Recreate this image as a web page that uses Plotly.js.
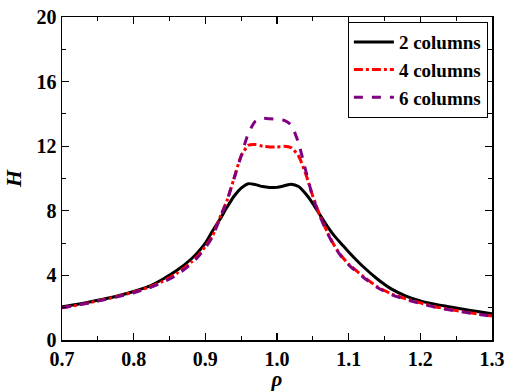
<!DOCTYPE html>
<html>
<head>
<meta charset="utf-8">
<script src="https://cdn.plot.ly/plotly-3.0.1.min.js"></script>
<style>html,body{margin:0;padding:0;background:#fff}#chart{width:506px;height:391px}</style>
</head>
<body>
<div id="chart"></div>
<script>
const names = ['2 columns', '4 columns', '6 columns'];

const rho2 = [0.70,0.72,0.74,0.76,0.78,0.80,0.82,0.84,0.86,0.88,0.89,0.90,0.91,0.92,0.93,0.94,0.95,0.96,0.97,0.98,0.99,1.00,1.01,1.02,1.03,1.04,1.05,1.06,1.07,1.08,1.09,1.10,1.12,1.14,1.16,1.18,1.20,1.22,1.24,1.26,1.28,1.30];
const h2   = [2.05,2.20,2.37,2.55,2.76,3.00,3.30,3.75,4.30,5.00,5.45,6.00,6.75,7.45,8.20,8.90,9.40,9.68,9.62,9.50,9.45,9.45,9.55,9.65,9.50,9.05,8.45,7.75,7.05,6.45,5.95,5.45,4.55,3.78,3.15,2.72,2.42,2.22,2.06,1.90,1.76,1.62];

const rho4 = [0.70,0.72,0.74,0.76,0.78,0.80,0.82,0.84,0.86,0.88,0.89,0.90,0.91,0.92,0.93,0.94,0.95,0.96,0.97,0.98,0.99,1.00,1.01,1.02,1.03,1.04,1.05,1.06,1.07,1.08,1.09,1.10,1.12,1.14,1.16,1.18,1.20,1.22,1.24,1.26,1.28,1.30];
const h4   = [2.00,2.15,2.33,2.52,2.73,2.97,3.25,3.62,4.12,4.80,5.25,5.80,6.45,7.55,8.60,10.00,11.40,12.05,12.10,12.00,11.95,11.95,12.00,11.90,11.40,10.30,8.90,7.70,6.70,5.85,5.20,4.70,3.95,3.30,2.85,2.55,2.30,2.06,1.90,1.75,1.61,1.48];

const rho6 = [0.70,0.72,0.74,0.76,0.78,0.80,0.82,0.84,0.86,0.88,0.89,0.90,0.91,0.92,0.93,0.94,0.95,0.96,0.97,0.98,0.99,1.00,1.01,1.02,1.03,1.04,1.05,1.06,1.07,1.08,1.09,1.10,1.12,1.14,1.16,1.18,1.20,1.22,1.24,1.26,1.28,1.30];
const h6   = [2.00,2.15,2.32,2.50,2.70,2.93,3.20,3.55,4.02,4.70,5.15,5.70,6.40,7.50,8.60,10.00,11.40,12.80,13.55,13.72,13.70,13.66,13.60,13.30,12.20,10.50,8.85,7.65,6.65,5.80,5.15,4.65,3.90,3.25,2.80,2.50,2.26,2.03,1.87,1.73,1.59,1.47];

const xTickVals = [0.7,0.8,0.9,1.0,1.1,1.2,1.3];
const xTickText = ['0.7','0.8','0.9','1.0','1.1','1.2','1.3'];
const yTickVals = [0,4,8,12,16,20];
const yTickText = ['0','4','8','12','16','20'];

const serif = 'Liberation Serif';
const bold = s => '<b>' + s + '</b>';

const traces = [
  {x: rho2, y: h2, name: bold(names[0]), mode: 'lines', line: {color: '#000000', width: 3, shape: 'spline', smoothing: 0.6}},
  {x: rho4, y: h4, name: bold(names[1]), mode: 'lines', line: {color: '#ff0000', width: 3, dash: 'dashdot', shape: 'spline', smoothing: 0.6}},
  {x: rho6, y: h6, name: bold(names[2]), mode: 'lines', line: {color: '#800080', width: 3, dash: 'dash', shape: 'spline', smoothing: 0.6}}
];

const axisCommon = {
  showgrid: false, zeroline: false, showline: true, linecolor: '#000', linewidth: 1.5,
  mirror: 'allticks', ticks: 'inside', ticklen: 7, tickwidth: 1.3, tickcolor: '#000',
  tickfont: {family: serif, size: 20, color: '#000'}
};

const layout = {
  width: 506, height: 391,
  margin: {l: 62, r: 14, t: 17, b: 51},
  paper_bgcolor: '#fff', plot_bgcolor: '#fff',
  font: {family: serif, color: '#000'},
  showlegend: true,
  legend: {
    x: 0.99, y: 0.985, xanchor: 'right', yanchor: 'top',
    bordercolor: '#000', borderwidth: 1.2, bgcolor: '#fff',
    font: {family: serif, size: 19, color: '#000'},
    tracegroupgap: 0, itemwidth: 40
  },
  xaxis: Object.assign({}, axisCommon, {
    range: [0.7, 1.3], tickvals: xTickVals, ticktext: xTickText.map(bold),
    minor: {dtick: 0.05, tick0: 0.7, ticks: 'inside', ticklen: 4, tickwidth: 1, tickcolor: '#000'},
    title: {text: '<b><i>ρ</i></b>', font: {family: serif, size: 21, color: '#000'}, standoff: 10}
  }),
  yaxis: Object.assign({}, axisCommon, {
    range: [0, 20], tickvals: yTickVals, ticktext: yTickText.map(bold),
    minor: {dtick: 2, tick0: 0, ticks: 'inside', ticklen: 4, tickwidth: 1, tickcolor: '#000'},
    title: {text: '<b><i>H</i></b>', font: {family: serif, size: 22, color: '#000'}, standoff: 9}
  })
};

Plotly.newPlot('chart', traces, layout, {staticPlot: true, displayModeBar: false});
</script>
</body>
</html>
